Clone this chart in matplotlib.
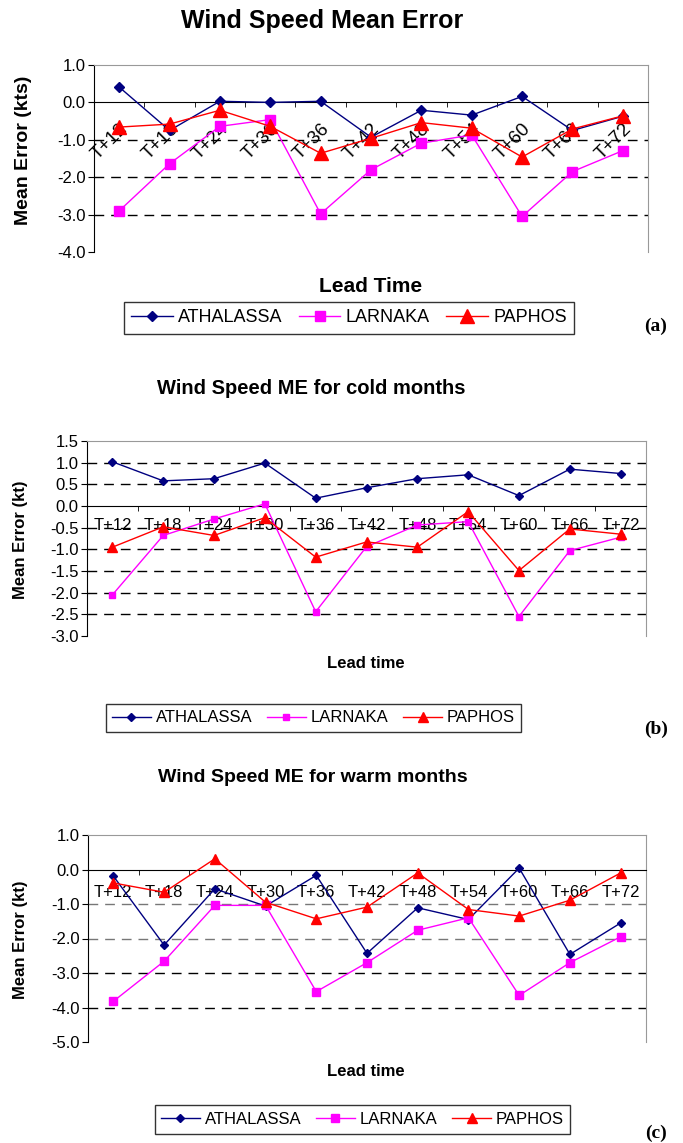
import matplotlib
matplotlib.use('Agg')
import matplotlib.pyplot as plt
from matplotlib.lines import Line2D

plt.rcParams['font.family'] = ['Liberation Sans', 'DejaVu Sans']

lead_times = ['T+12', 'T+18', 'T+24', 'T+30', 'T+36', 'T+42',
              'T+48', 'T+54', 'T+60', 'T+66', 'T+72']

# (a) all months
a_athalassa = [0.41, -0.75, 0.03, 0.0, 0.03, -0.93, -0.21, -0.34, 0.16, -0.75, -0.37]
a_larnaka = [-2.90, -1.64, -0.64, -0.46, -2.98, -1.80, -1.09, -0.87, -3.05, -1.85, -1.29]
a_paphos = [-0.66, -0.58, -0.21, -0.64, -1.36, -0.96, -0.54, -0.69, -1.46, -0.71, -0.36]

# (b) cold months
b_athalassa = [1.02, 0.58, 0.63, 0.99, 0.18, 0.42, 0.63, 0.72, 0.24, 0.85, 0.75]
b_larnaka = [-2.05, -0.68, -0.30, 0.05, -2.44, -0.94, -0.44, -0.36, -2.55, -1.03, -0.72]
b_paphos = [-0.95, -0.48, -0.68, -0.27, -1.18, -0.83, -0.95, -0.13, -1.49, -0.53, -0.65]

# (c) warm months
c_athalassa = [-0.19, -2.19, -0.56, -1.06, -0.17, -2.43, -1.11, -1.45, 0.04, -2.46, -1.55]
c_larnaka = [-3.82, -2.66, -1.04, -1.04, -3.54, -2.70, -1.76, -1.40, -3.65, -2.70, -1.95]
c_paphos = [-0.39, -0.66, 0.31, -0.95, -1.43, -1.09, -0.10, -1.16, -1.35, -0.89, -0.10]

stations = ['ATHALASSA', 'LARNAKA', 'PAPHOS']
colors = ['#000080', '#FF00FF', '#FF0000']
markers = ['D', 's', '^']

W, H = 683, 1143
fig = plt.figure(figsize=(W / 100, H / 100), dpi=100)


def px_axes(x0, y0, x1, y1):
    return fig.add_axes([x0 / W, 1 - y1 / H, (x1 - x0) / W, (y1 - y0) / H])


def draw_panel(ax, series, ylim, yticks, msizes, fs, xfs, pad, rot,
               grey_grid=()):
    x = list(range(len(lead_times)))
    for vals, c, m, ms in zip(series, colors, markers, msizes):
        ax.plot(x, vals, color=c, marker=m, markersize=ms, lw=1.0, zorder=3,
                clip_on=False)
    ax.set_xlim(-0.5, len(lead_times) - 0.5)
    ax.set_ylim(*ylim)
    ax.set_yticks(yticks)
    ax.set_yticklabels(['%.1f' % v for v in yticks], fontsize=fs)
    for v in yticks:
        if v != 0 and v != ylim[1] and v != ylim[0]:
            col = '#777777' if v in grey_grid else 'black'
            ax.axhline(v, color=col, lw=1.0, ls=(0, (7, 5)), zorder=1)
    ax.spines['bottom'].set_position(('data', 0))
    for s in ['top', 'right']:
        ax.spines[s].set_color('#999999')
    ax.set_xticks(x)
    ax.tick_params(axis='x', length=0, pad=pad)
    ax.set_xticks([i - 0.5 for i in range(len(lead_times) + 1)], minor=True)
    ax.tick_params(axis='x', which='minor', length=3.5, direction='out')
    ax.tick_params(axis='y', length=4, direction='out', pad=2)
    if rot:
        ax.set_xticklabels(lead_times, rotation=45, ha='right', va='top',
                           rotation_mode='anchor', fontsize=xfs)
    else:
        ax.set_xticklabels(lead_times, fontsize=xfs)


def legend(x0, y0, x1, y1, msizes, fs):
    handles = [Line2D([], [], color=c, marker=m, markersize=ms, lw=1.0)
               for c, m, ms in zip(colors, markers, msizes)]
    lg = fig.legend(handles, stations, loc='center',
                    bbox_to_anchor=((x0 + x1) / 2 / W, 1 - (y0 + y1) / 2 / H),
                    ncol=3, frameon=True, fancybox=False, fontsize=fs,
                    handlelength=2.3, handletextpad=0.3, columnspacing=0.9,
                    borderpad=0.4)
    lg.get_frame().set_edgecolor('black')
    lg.get_frame().set_linewidth(1.0)


def label(x, y, s, fs, **kw):
    fig.text(x / W, 1 - y / H, s, ha='center', va='center', fontsize=fs,
             fontweight='bold', **kw)


# panel (a)
ax_a = px_axes(94, 65, 648, 252)
draw_panel(ax_a, [a_athalassa, a_larnaka, a_paphos], (-4.0, 1.0),
           [-4.0, -3.0, -2.0, -1.0, 0.0, 1.0], [5.5, 6.5, 10.5],
           12, 13.5, 13, True)
label(322, 21, 'Wind Speed Mean Error', 18)
label(24, 150, 'Mean Error (kts)', 14, rotation=90)
label(371, 286, 'Lead Time', 15)
legend(120, 300, 578, 336, [5.5, 6.5, 10.5], 13)
label(656, 326, '(a)', 14, family='Liberation Serif')

# panel (b)
ax_b = px_axes(87, 441, 646, 636)
draw_panel(ax_b, [b_athalassa, b_larnaka, b_paphos], (-3.0, 1.5),
           [-3.0, -2.5, -2.0, -1.5, -1.0, -0.5, 0.0, 0.5, 1.0, 1.5],
           [4.5, 5, 7], 12, 12, 9, False)
label(311, 389, 'Wind Speed ME for cold months', 14.5)
label(21, 540, 'Mean Error (kt)', 12, rotation=90)
label(366, 664, 'Lead time', 12)
legend(104, 703, 523, 733, [4.5, 5, 7], 12)
label(656, 729, '(b)', 14, family='Liberation Serif')

# panel (c)
ax_c = px_axes(88, 835, 646, 1042)
draw_panel(ax_c, [c_athalassa, c_larnaka, c_paphos], (-5.0, 1.0),
           [-5.0, -4.0, -3.0, -2.0, -1.0, 0.0, 1.0], [4.5, 5.5, 7.5],
           12, 12, 11, False, grey_grid=(-1.0, -2.0))
label(313, 778, 'Wind Speed ME for warm months', 14)
label(21, 940, 'Mean Error (kt)', 12, rotation=90)
label(366, 1071, 'Lead time', 12)
legend(154, 1102, 571, 1137, [4.5, 5.5, 7.5], 12)
label(656, 1133, '(c)', 14, family='Liberation Serif')

fig.savefig('out.png', dpi=100)
